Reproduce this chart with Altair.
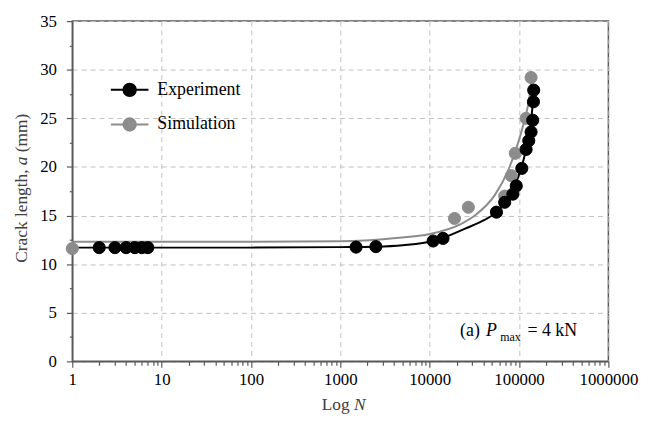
import altair as alt
import pandas as pd

# ---- data ----
exp_N = [2, 3, 4, 5, 6, 7, 1500, 2500, 10930, 14100, 55900, 69100, 85300, 93100,
         107400, 120000, 128500, 136400, 142300, 145000, 146000]
exp_a = [11.7, 11.7, 11.7, 11.7, 11.7, 11.7, 11.75, 11.8, 12.38, 12.65, 15.35, 16.36,
         17.2, 18.05, 19.85, 21.8, 22.7, 23.6, 24.8, 26.7, 27.9]

sim_N = [1, 18970, 27100, 69100, 81900, 90800, 120000, 136400]
sim_a = [11.6, 14.7, 15.85, 17.0, 19.1, 21.4, 25.0, 29.2]

exp_curve_N = [1, 10, 100, 1000, 2500, 5000, 10930, 14100, 24900, 40000, 55900, 70000,
               89100, 105000, 120000, 132000, 142300, 146000]
exp_curve_a = [11.7, 11.7, 11.7, 11.75, 11.8, 11.95, 12.38, 12.7, 13.65, 14.5, 15.35, 16.4,
               18.05, 19.8, 21.8, 23.6, 26.5, 27.9]

sim_curve_N = [1, 10, 100, 1000, 4200, 10000, 22000, 32000, 53500, 75200, 97000, 115000,
               130700, 136000]
sim_curve_a = [12.3, 12.3, 12.3, 12.35, 12.7, 13.1, 14.1, 15.0, 17.1, 19.6, 22.4, 24.8,
               27.2, 28.6]

series = ["Experiment", "Simulation"]
colors = ["#000000", "#8c8c8c"]

x_ticks = []
for d in range(6):
    for m in range(1, 10):
        x_ticks.append(m * 10 ** d)
x_ticks.append(1000000)
y_ticks = [i * 2.5 for i in range(15)]

# annotation "(a) P_max = 4 kN" (anchored in data units)
note_text = ["(a)", "P", "max", "= 4 kN"]
note_N = [21900, 42600, 61500, 124200]
note_a = [2.64, 2.64, 2.13, 2.64]

# axis titles with italic symbols (anchored in data units)
ytitle_text = ["Crack length, ", "a", "(mm)"]
ytitle_N = [0.272, 0.272, 0.272]
ytitle_a = [10.15, 20.18, 21.51]
xtitle_text = ["Log", "N"]
xtitle_N = [618, 1419]
xtitle_a = [-5.05, -5.05]

FONT = "Liberation Serif"

# ---- frames ----
pts = pd.DataFrame({
    "N": sim_N + exp_N,
    "a": sim_a + exp_a,
    "series": ["Simulation"] * len(sim_N) + ["Experiment"] * len(exp_N),
})
curves = pd.DataFrame({
    "N": sim_curve_N + exp_curve_N,
    "a": sim_curve_a + exp_curve_a,
    "series": ["Simulation"] * len(sim_curve_N) + ["Experiment"] * len(exp_curve_N),
    "ord": list(range(len(sim_curve_N))) + list(range(len(exp_curve_N))),
})
notes = pd.DataFrame({"t": note_text, "N": note_N, "a": note_a})
ytitle = pd.DataFrame({"t": ytitle_text, "N": ytitle_N, "a": ytitle_a})
xtitle = pd.DataFrame({"t": xtitle_text, "N": xtitle_N, "a": xtitle_a})

major_test = "indexof([1,10,100,1000,10000,100000,1000000], datum.value) >= 0"

xs = alt.Scale(type="log", domain=[1, 1000000], nice=False)
ys = alt.Scale(domain=[0, 35], nice=False)

x_axis = alt.Axis(
    title=None, values=x_ticks,
    labelExpr=f"{major_test} ? format(datum.value, 'd') : ''",
    labelFlush=False, labelOverlap=False, labelPadding=4,
    gridOpacity={"condition": {"test": major_test, "value": 1}, "value": 0},
    tickSize={"condition": {"test": major_test, "value": 6}, "value": 4},
)
y_axis = alt.Axis(
    title=None, values=y_ticks,
    labelExpr="datum.value % 5 == 0 ? datum.value : ''",
    labelOverlap=False, labelPadding=10,
    gridOpacity={"condition": {"test": "datum.value % 5 == 0", "value": 1}, "value": 0},
    tickSize={"condition": {"test": "datum.value % 5 == 0", "value": 6}, "value": 3},
)

X = alt.X("N:Q", scale=xs, axis=x_axis)
Y = alt.Y("a:Q", scale=ys, axis=y_axis)

cscale = alt.Scale(domain=series, range=colors)
sym = "M-1,0L1,0M-0.33,0A0.33,0.33,0,1,1,0.33,0A0.33,0.33,0,1,1,-0.33,0Z"
leg = alt.Legend(
    title=None, orient="none", legendX=38, legendY=53,
    symbolType=sym, symbolSize=1444, symbolStrokeWidth=2, symbolOpacity=1,
    labelFont=FONT, labelFontSize=18, labelColor="#000000", labelOffset=8,
    clipHeight=33, rowPadding=2, padding=0,
)

lines = alt.Chart(curves).mark_line(strokeWidth=2, interpolate="monotone").encode(
    x=X, y=Y,
    stroke=alt.Stroke("series:N", scale=cscale, legend=leg),
    detail="series:N",
    order="ord:Q",
)
lines_sim = lines.transform_filter("datum.series == 'Simulation'")
lines_exp = lines.transform_filter("datum.series == 'Experiment'")

points = alt.Chart(pts).mark_point(filled=True, shape="circle", size=150, opacity=1,
                                   strokeWidth=1).encode(
    x=X, y=Y,
    fill=alt.Fill("series:N", scale=cscale, legend=leg),
    stroke=alt.Stroke("series:N", scale=cscale, legend=leg),
)


def text_layer(df, test, size, style="normal", angle=0, baseline="alphabetic",
               color="#000000"):
    return alt.Chart(df).transform_filter(test).mark_text(
        font=FONT, fontSize=size, fontStyle=style, align="left", baseline=baseline,
        angle=angle, color=color,
    ).encode(x=X, y=Y, text="t:N")


n1 = text_layer(notes, "datum.t == '(a)' || datum.t == '= 4 kN'", 18)
n2 = text_layer(notes, "datum.t == 'P'", 18, "italic")
n3 = text_layer(notes, "datum.t == 'max'", 12)

TCOL = "#404040"
yt1 = text_layer(ytitle, "datum.t != 'a'", 17.5, "normal", 270, "middle", TCOL)
yt2 = text_layer(ytitle, "datum.t == 'a'", 17.5, "italic", 270, "middle", TCOL)
xt1 = text_layer(xtitle, "datum.t == 'Log'", 17.5, "normal", 0, "alphabetic", TCOL)
xt2 = text_layer(xtitle, "datum.t == 'N'", 17.5, "italic", 0, "alphabetic", TCOL)

chart = alt.layer(lines_sim, lines_exp, points, n1, n2, n3, yt1, yt2, xt1, xt2).properties(
    width=542, height=344,
    padding={"left": 4, "top": 2, "right": 5, "bottom": 0},
).configure_view(
    stroke="#595959", strokeWidth=1.5,
).configure_axis(
    labelFont=FONT, labelFontSize=17, labelColor="#000000",
    domainColor="#595959", domainWidth=1.5, tickColor="#595959", tickWidth=1.2,
    gridColor="#c0c0c0", gridDash=[5, 4], gridWidth=1,
)

chart.save("out.html", embed_options={"renderer": "svg", "actions": False})
